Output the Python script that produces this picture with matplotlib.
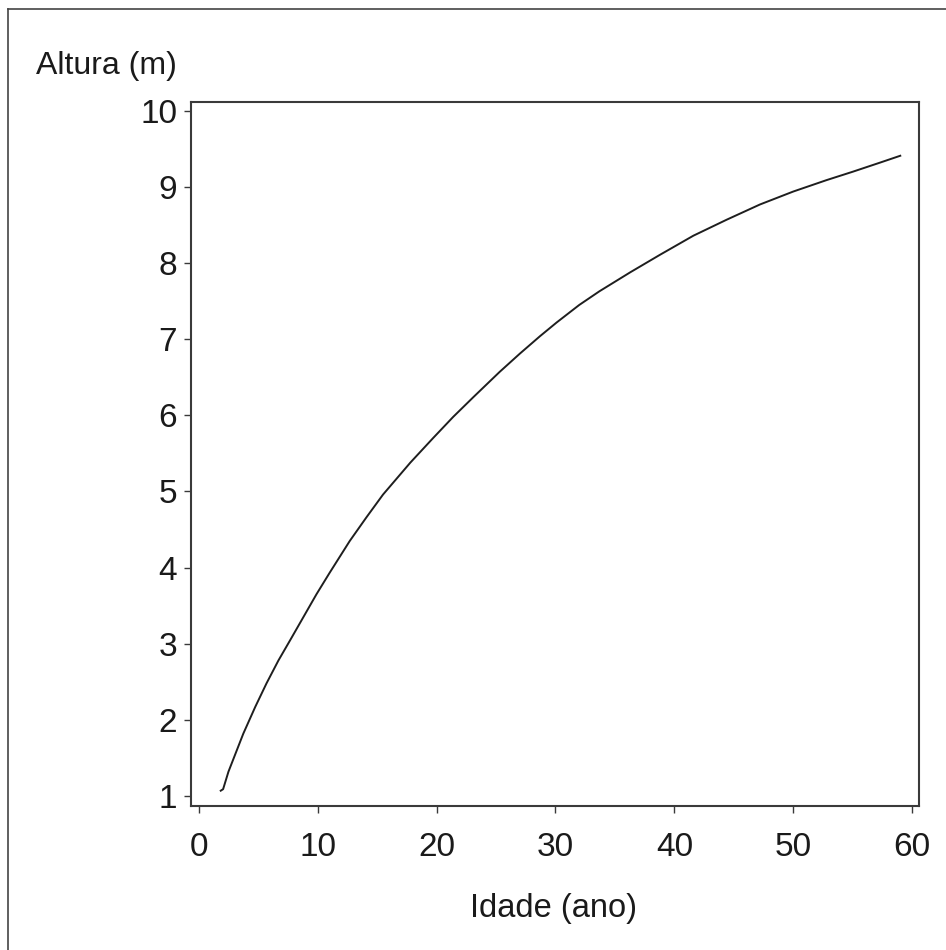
import matplotlib
matplotlib.use("Agg")
import matplotlib.pyplot as plt
from matplotlib.lines import Line2D

idade = [1.85, 2.05, 2.5, 3.2, 3.75, 4.75, 5.7, 6.7, 7.7, 8.8, 9.9, 11.0, 12.7, 14.1,
         15.5, 17.8, 19.7, 21.4, 23.1, 25.3, 27.0, 28.7, 30.1, 32.0, 33.7, 36.3,
         38.8, 41.6, 44.4, 47.2, 50.0, 52.8, 55.0, 57.3, 59.0]
altura = [1.07, 1.09, 1.32, 1.60, 1.82, 2.17, 2.48, 2.78, 3.05, 3.35, 3.65, 3.93, 4.35, 4.66,
          4.96, 5.38, 5.70, 5.98, 6.24, 6.57, 6.81, 7.04, 7.22, 7.45, 7.63, 7.88,
          8.11, 8.36, 8.57, 8.77, 8.94, 9.09, 9.20, 9.32, 9.41]

x_ticks = [0, 10, 20, 30, 40, 50, 60]
y_ticks = [1, 2, 3, 4, 5, 6, 7, 8, 9, 10]

FONT = ["Liberation Sans", "DejaVu Sans"]
EDGE = "#3a3a3a"
TXT = "#1a1a1a"

plt.rcParams["font.family"] = FONT

fig = plt.figure(figsize=(9.46, 9.50), dpi=100)
ax = fig.add_axes([191 / 946, 1 - 805.7 / 950, (918.7 - 191) / 946, (805.7 - 101.7) / 950])

ax.plot(idade, altura, color="#1e1e1e", lw=1.4, solid_joinstyle="round")

ax.set_xlim(-0.65, 60.55)
ax.set_ylim(0.873, 10.12)
ax.set_xticks(x_ticks)
ax.set_yticks(y_ticks)
ax.tick_params(direction="out", length=5, width=1.0, color=EDGE,
               labelsize=24, labelcolor=TXT)
ax.tick_params(axis="x", pad=14)
ax.tick_params(axis="y", pad=5)
for s in ax.spines.values():
    s.set_color(EDGE)
    s.set_linewidth(1.5)

fig.text(36 / 946, 1 - 66 / 950, "Altura (m)", ha="left", va="center",
         fontsize=23, color=TXT)
fig.text(553 / 946, 1 - 908 / 950, "Idade (ano)", ha="center", va="center",
         fontsize=23.5, color=TXT)

# moldura externa (lados esquerdo e superior)
fig.add_artist(Line2D([7.5 / 946, 7.5 / 946], [0, 1 - 9.3 / 950],
                      transform=fig.transFigure, color="#444444", lw=1.2))
fig.add_artist(Line2D([7.5 / 946, 1], [1 - 9.3 / 950, 1 - 9.3 / 950],
                      transform=fig.transFigure, color="#444444", lw=1.2))

fig.savefig("out.png", dpi=100, facecolor="white")
